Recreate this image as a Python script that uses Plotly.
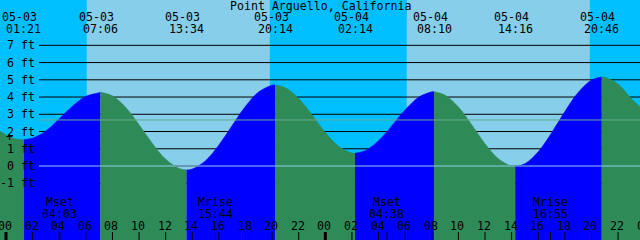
import plotly.graph_objects as go

# ---------------- data ----------------
title = "Point Arguello, California"

# tide curve (hours since 05-03 00:00, feet)
hours = [-0.5, 0, 0.5, 1, 1.35, 2, 3, 4, 5, 6, 7, 7.1, 8, 9, 10, 11, 12, 13, 13.57,
         14, 15, 16, 17, 18, 19, 20, 20.23, 21, 22, 23, 24, 25, 26, 26.23,
         27, 28, 29, 30, 31, 32, 32.17, 33, 34, 35, 36, 37, 38, 38.27,
         39, 40, 41, 42, 43, 44, 44.77, 45, 46, 47, 47.7]
feet = [2.05, 1.80, 1.62, 1.54, 1.53, 1.62, 2.03, 2.74, 3.47, 4.04, 4.25, 4.28, 4.07, 3.39, 2.39, 1.31, 0.39, -0.14, -0.23,
        -0.18, 0.31, 1.22, 2.35, 3.46, 4.30, 4.69, 4.70, 4.54, 3.91, 2.96, 1.94, 1.14, 0.75, 0.74,
        0.89, 1.47, 2.34, 3.26, 3.98, 4.30, 4.31, 4.11, 3.42, 2.39, 1.29, 0.42, -0.01, -0.03,
        0.13, 0.83, 1.92, 3.16, 4.26, 4.98, 5.16, 5.15, 4.75, 3.90, 3.40]

# high / low tide events
extreme_dates = ["05-03", "05-03", "05-03", "05-03", "05-04", "05-04", "05-04", "05-04"]
extreme_times = ["01:21", "07:06", "13:34", "20:14", "02:14", "08:10", "14:16", "20:46"]

# sun events (sunrise / sunset)
sun_dates = ["05-03", "05-03", "05-04", "05-04"]
sun_times = ["06:04", "19:50", "06:07", "19:53"]

# moon events
moon_names = ["Mset", "Mrise", "Mset", "Mrise"]
moon_dates = ["05-03", "05-03", "05-04", "05-04"]
moon_times = ["04:03", "15:44", "04:38", "16:55"]

# axis levels
level_ticks = [-1, 0, 1, 2, 3, 4, 5, 6, 7]
mean_level = 2.67
hour_ticks = list(range(0, 50, 2))
hour_labels = ["%02d" % (h % 24) for h in hour_ticks]

# ---------------- helpers ----------------
def to_hours(date, t):
    day = 0 if date == "05-03" else 1
    hh, mm = t.split(":")
    return day * 24 + int(hh) + int(mm) / 60.0

ext_h = [to_hours(d, t) for d, t in zip(extreme_dates, extreme_times)]
sun_h = [to_hours(d, t) for d, t in zip(sun_dates, sun_times)]
moon_h = [to_hours(d, t) for d, t in zip(moon_dates, moon_times)]

W, H = 640, 240
X0, X1 = -0.451, 47.648
Y0, Y1 = -4.292, 9.629

def xpaper(h):
    return (h - X0) / (X1 - X0)

NIGHT = "#00BFFF"
DAY = "#87CEEB"
RISE = "#0000FF"
FALL = "#2E8B57"
FONT = "DejaVu Sans Mono"
FS = 11.6

fig = go.Figure()

# water fill, split into rising / falling segments
bounds = [hours[0]] + [hours[min(range(len(hours)), key=lambda i: abs(hours[i] - e))] for e in ext_h] + [hours[-1]]
for b0, b1 in zip(bounds[:-1], bounds[1:]):
    idx = [i for i, h in enumerate(hours) if b0 - 1e-9 <= h <= b1 + 1e-9]
    xs = [hours[i] for i in idx]
    ys = [feet[i] for i in idx]
    col = RISE if ys[-1] > ys[0] else FALL
    fig.add_trace(go.Scatter(x=[b0, b1], y=[Y0 - 1, Y0 - 1], mode="lines",
                             line=dict(width=0), hoverinfo="skip", showlegend=False))
    fig.add_trace(go.Scatter(x=xs, y=ys, mode="lines", fill="tonexty", fillcolor=col,
                             line=dict(width=0.6, color=col, shape="spline"),
                             hoverinfo="skip", showlegend=False))

shapes = []
# day / night sky
edges = [X0 - 1] + sun_h + [X1 + 1]
for i in range(len(edges) - 1):
    shapes.append(dict(type="rect", xref="x", yref="paper", x0=edges[i], x1=edges[i + 1],
                       y0=0, y1=1, fillcolor=NIGHT if i % 2 == 0 else DAY,
                       line=dict(width=0), layer="below"))
# grid lines (behind water)
for v in level_ticks:
    shapes.append(dict(type="line", xref="paper", yref="y", x0=39 / W, x1=1, y0=v, y1=v,
                       line=dict(color="black", width=1), layer="below"))
# mean & datum lines (over water)
shapes.append(dict(type="line", xref="paper", yref="y", x0=39 / W, x1=1, y0=mean_level, y1=mean_level,
                   line=dict(color="#64AA8C", width=1), layer="above"))
shapes.append(dict(type="line", xref="paper", yref="y", x0=39 / W, x1=1, y0=0, y1=0,
                   line=dict(color="#8CCDEA", width=1), layer="above"))
# hour ticks
for h in hour_ticks:
    shapes.append(dict(type="line", xref="x", yref="paper", x0=h, x1=h, y0=0, y1=8 / H,
                       line=dict(color="black", width=3 if h % 24 == 0 else 1), layer="above"))
for h in moon_h:
    shapes.append(dict(type="line", xref="x", yref="paper", x0=h, x1=h, y0=0, y1=8 / H,
                       line=dict(color="black", width=1), layer="above"))

ann = []
def txt(text, x, y, xref="paper", yref="paper", xanchor="center", xshift=0):
    ann.append(dict(text=text, x=x, y=y, xref=xref, yref=yref, xanchor=xanchor, yanchor="middle",
                    showarrow=False, xshift=xshift, font=dict(family=FONT, size=FS, color="black")))

txt(title, 0.5, 1 - 6 / H)
for h, d, t in zip(ext_h, extreme_dates, extreme_times):
    txt(d, xpaper(h), 1 - 17.5 / H, xshift=-4)
    txt(t, xpaper(h), 1 - 29 / H)
for v in level_ticks:
    txt("%d ft" % v, 36.5 / W, v, yref="y", xanchor="right")
for h, lab in zip(hour_ticks, hour_labels):
    txt(lab, xpaper(h), 1 - 226 / H, xshift=-1)
for h, n, t in zip(moon_h, moon_names, moon_times):
    txt(n, xpaper(h), 1 - 201.5 / H)
    txt(t, xpaper(h), 1 - 213.5 / H)
txt("+", 9 / W, 1 - 137 / H)

fig.update_layout(
    width=W, height=H, margin=dict(l=0, r=0, t=0, b=0),
    paper_bgcolor=NIGHT, plot_bgcolor=NIGHT,
    xaxis=dict(range=[X0, X1], visible=False, fixedrange=True),
    yaxis=dict(range=[Y0, Y1], visible=False, fixedrange=True),
    shapes=shapes, annotations=ann, showlegend=False,
)
fig.write_html("out.html", config={"displayModeBar": False})
